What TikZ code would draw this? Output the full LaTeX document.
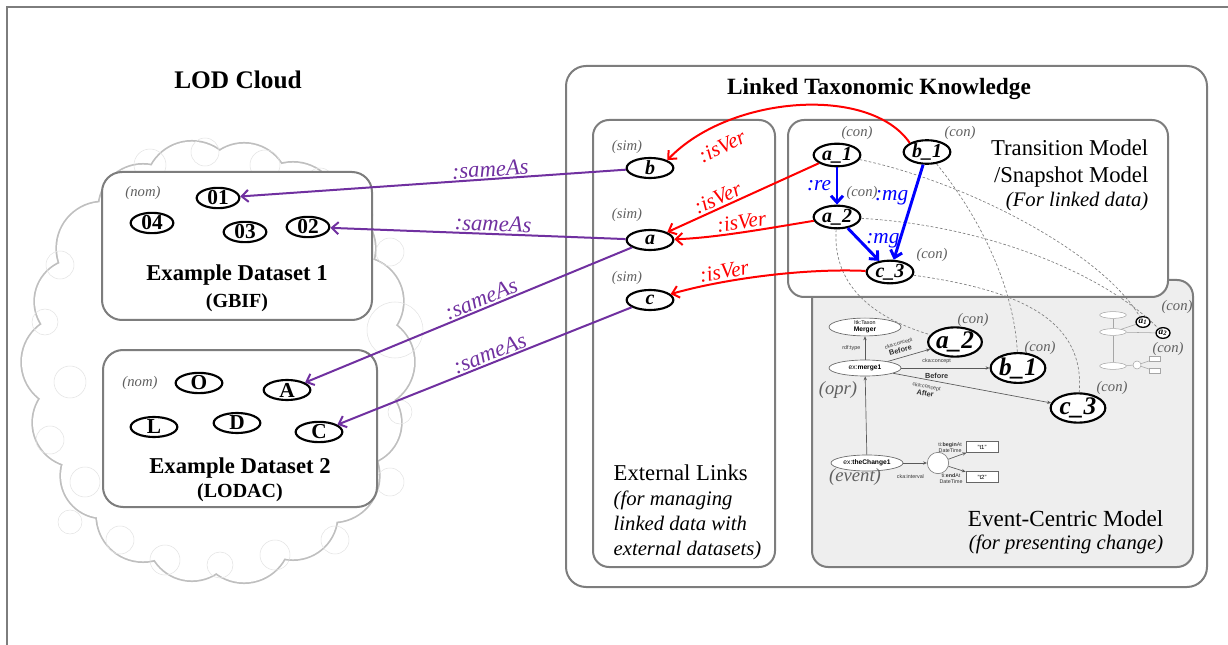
\documentclass[tikz,border=0pt]{standalone}
\usepackage{fontspec}
\setmainfont{Liberation Serif}
\setsansfont{Liberation Sans}
\usepackage{xcolor}
\usetikzlibrary{shapes.geometric, arrows.meta, positioning, calc}

\definecolor{purp}{RGB}{112,48,160}
\definecolor{ecm}{RGB}{238,238,238}
\definecolor{frameline}{RGB}{125,125,125}
\newcommand{\fsz}[2]{\fontsize{#1}{#2}\selectfont}
\def\cloudbumps{0/46,20/42,40/46,60/44,80/46,100/44,120/46,140/42,160/44,180/46,200/42,220/46,240/44,260/46,280/44,300/46,320/42,340/44}

\begin{document}
\begin{tikzpicture}[x=0.75pt, y=-0.75pt,
  panel/.style={draw=frameline, line width=1.5pt, rounded corners=12pt},
  res/.style={ellipse, draw, line width=1.6pt, fill=white, inner sep=0pt,
    minimum width=35pt, minimum height=15pt, font=\fsz{16}{16}\bfseries},
  con/.style={res, font=\fsz{15}{15}\bfseries\itshape},
  evres/.style={res, minimum width=41pt, minimum height=22pt, font=\fsz{19}{19}\bfseries\itshape},
  minires/.style={res, line width=1pt, minimum width=10.5pt, minimum height=8pt, font=\fsz{7}{7}\bfseries\itshape},
  kind/.style={text=gray!75!black, font=\fsz{11}{11}\itshape},
  big/.style={font=\fsz{17}{19}},
  sub/.style={font=\fsz{15.5}{19}\itshape},
  sameas/.style={draw=purp, line width=1.5pt, -{Straight Barb[length=5pt,width=9pt]}},
  sameaslbl/.style={text=purp, font=\fsz{17}{17}\itshape, sloped, inner sep=1pt},
  isver/.style={draw=red, line width=1.5pt, -{Straight Barb[length=5pt,width=9pt]}},
  isverlbl/.style={text=red, font=\fsz{16}{16}\itshape, sloped, inner sep=1.5pt},
  evo/.style={draw=blue, line width=2.2pt, -{Straight Barb[length=5pt,width=9pt]}},
  evolbl/.style={text=blue, font=\fsz{16}{16}\itshape},
  link/.style={draw=gray, line width=0.5pt, dash pattern=on 2pt off 1.5pt},
  rdf/.style={ellipse, draw=gray!80!black, fill=white, line width=0.5pt, inner sep=0pt,
    minimum width=54pt, minimum height=12pt, font=\sffamily\fsz{5}{5.5}, align=center},
  mini/.style={ellipse, draw=gray!70, fill=white, line width=0.4pt, inner sep=0pt,
    minimum width=20pt, minimum height=5pt},
  rdfedge/.style={draw=gray!70!black, line width=0.5pt, -{Stealth[length=3pt,width=2.5pt]}},
  rdflbl/.style={font=\sffamily\fsz{4}{4.5}, text=black!80, align=center},
  lit/.style={draw=gray!80!black, fill=white, line width=0.5pt, minimum width=24pt,
    minimum height=8pt, inner sep=0pt, font=\sffamily\fsz{4.5}{5}},
]
\useasboundingbox (0,0) rectangle (1228,645);
\draw[frameline, line width=1.1pt] (7,645) -- (7,7) -- (1228,7);

% LOD cloud
\node[font=\fsz{19}{19}\bfseries, anchor=base] (lod) at (238,89) {LOD Cloud};
\foreach \t/\r in \cloudbumps
  \draw[gray!50, line width=2.6pt] ({218+150*cos(\t)},{362+177*sin(\t)}) circle[radius=\r];
\foreach \t/\r in \cloudbumps
  \fill[white] ({218+150*cos(\t)},{362+177*sin(\t)}) circle[radius=\r];
\fill[white] (218,362) ellipse[x radius=152, y radius=179];
\foreach \cx/\cy/\r in {150/165/16,205/152/14,265/165/15,320/182/14,360/215/13,60/265/14,
    45/322/13,70/382/16,50/440/14,85/482/15,70/522/12,120/540/14,165/560/15,220/565/13,
    275/555/15,335/540/14,390/482/14,400/412/12,395/330/28,390/252/14}
  \draw[gray!22, line width=0.4pt] (\cx,\cy) circle[radius=\r];

% Example dataset 1
\draw[panel, fill=white, rounded corners=15pt] (102,172) rectangle (372,320);
\node[kind] (nom1) at (143,193) {(nom)};
\node[res, minimum width=32pt] (n01) at (218,198) {01};
\node[res, minimum width=32pt] (n04) at (152,223) {04};
\node[res, minimum width=32pt] (n03) at (245,232) {03};
\node[res, minimum width=32pt] (n02) at (308,227) {02};
\node[font=\fsz{17}{17}\bfseries, anchor=base] (ds1) at (237,281) {Example Dataset 1};
\node[font=\fsz{15}{15}\bfseries, anchor=base] (gbif) at (237,308) {(GBIF)};

% Example dataset 2
\draw[panel, fill=white, rounded corners=15pt] (103,350) rectangle (377,507);
\node[kind] (nom2) at (140,383) {(nom)};
\node[res] (nO) at (199,383) {O};
\node[res] (nA) at (287,390) {A};
\node[res] (nL) at (154,427) {L};
\node[res] (nD) at (237,423) {D};
\node[res] (nC) at (319,432) {C};
\node[font=\fsz{17}{17}\bfseries, anchor=base] (ds2) at (240,473) {Example Dataset 2};
\node[font=\fsz{15}{15}\bfseries, anchor=base] (lodac) at (240,497) {(LODAC)};

% Linked taxonomic knowledge
\draw[panel, rounded corners=15pt] (566,66) rectangle (1207,587);
\node[font=\fsz{17.5}{17.5}\bfseries, anchor=base] (ltk) at (879,95) {Linked Taxonomic Knowledge};
\draw[panel] (593,120) rectangle (775,567);
\draw[panel, fill=ecm] (812,280) rectangle (1193,567);
\draw[panel, fill=white] (788,120) rectangle (1168,297);

% External links
\node[kind] (sim1) at (627,147) {(sim)};
\node[con] (b) at (650,168) {b};
\node[kind] (sim2) at (627,215) {(sim)};
\node[con] (a) at (650,240) {a};
\node[kind] (sim3) at (627,278) {(sim)};
\node[con] (c) at (650,300) {c};
\node[big, anchor=base west] (el1) at (609,480) {External Links};
\node[sub, anchor=base west] (el2) at (609,505) {(for managing};
\node[sub, anchor=base west] (el3) at (609,530) {linked data with};
\node[sub, anchor=base west] (el4) at (609,555) {external datasets)};

% Transition / snapshot model
\node[kind] (con1) at (857,133) {(con)};
\node[con] (a1) at (837,155) {a\_1};
\node[kind] (con2) at (960,133) {(con)};
\node[con] (b1) at (927,152) {b\_1};
\node[kind] (con3) at (862,193) {(con)};
\node[con] (a2) at (837,217) {a\_2};
\node[kind] (con4) at (932,255) {(con)};
\node[con] (c3) at (890,272) {c\_3};
\node[big, anchor=base east] (tm1) at (1153,156) {Transition Model};
\node[big, anchor=base east] (tm2) at (1153,183) {/Snapshot Model};
\node[sub, anchor=base east] (tm3) at (1153,207) {(For linked data)};

% Event-centric model
\node[rdf] (merger) at (865,327) {{\fsz{4}{4.5}ltk:Taxon}\\\textbf{Merger}};
\node[rdf] (merge1) at (865,368) {ex:\textbf{merge1}};
\node[rdf] (change1) at (867,463) {ex:\textbf{theChange1}};
\node[circle, draw=gray, fill=white, line width=0.5pt, minimum size=16pt, inner sep=0pt] (span) at (938,463) {};
\node[lit] (t1) at (982,447) {"t1"};
\node[lit] (t2) at (982,477) {"t2"};
\node[kind, font=\fsz{14}{14}\itshape] (opr) at (838,390) {(opr)};
\node[kind, font=\fsz{14}{14}\itshape] (event) at (855,477) {(event)};
\node[kind] (con5) at (973,320) {(con)};
\node[evres, minimum width=34pt] (a2e) at (955,342) {a\_2};
\node[kind] (con6) at (1040,348) {(con)};
\node[evres] (b1e) at (1018,368) {b\_1};
\node[kind] (con7) at (1112,388) {(con)};
\node[evres] (c3e) at (1078,408) {c\_3};
\node[font=\fsz{17.3}{17.3}, anchor=base east] (ecm1) at (1168,526) {Event-Centric Model};
\node[sub, anchor=base east] (ecm2) at (1168,549) {(for presenting change)};
\draw[rdfedge] (merge1) -- node[rdflbl, left] {rdf:type} (merger);
\draw[rdfedge] (change1) -- (merge1);
\draw[rdfedge] (change1) -- node[rdflbl, below=5pt, pos=0.3] {cka:interval} (span);
\draw[rdfedge] (span) -- node[rdflbl, above=1pt, pos=0.1] {ti:\textbf{begin}At\\DateTime} (t1);
\draw[rdfedge] (span) -- node[rdflbl, below=1pt, pos=0.15] {ti:\textbf{end}At\\DateTime} (t2);
\draw[rdfedge] (merge1) -- node[rdflbl, sloped, above, pos=0.35] {cka:concept\\{\fsz{5.5}{6}\bfseries Before}} (a2e);
\draw[rdfedge] (merge1) -- node[rdflbl, sloped, above, pos=0.4] {cka:concept}
  node[rdflbl, sloped, below, pos=0.4] {\fsz{5.5}{6}\bfseries Before} (b1e);
\draw[rdfedge] (merge1) -- node[rdflbl, sloped, below, pos=0.22] {cka:concept\\{\fsz{5.5}{6}\bfseries After}} (c3e);

% miniature of a split
\node[mini] (mtax) at (1113,315) {};
\node[mini] (mopr) at (1113,332) {};
\node[mini] (mevt) at (1113,366) {};
\node[circle, draw=gray!70, fill=white, line width=0.4pt, minimum size=6pt, inner sep=0pt] (mspan) at (1137,365) {};
\node[draw=gray!70, fill=white, line width=0.4pt, minimum width=8pt, minimum height=4pt, inner sep=0pt] (mt1) at (1155,359) {};
\node[draw=gray!70, fill=white, line width=0.4pt, minimum width=8pt, minimum height=4pt, inner sep=0pt] (mt2) at (1155,371) {};
\node[minires] (sa1) at (1143,322) {a\textsubscript{1}};
\node[minires] (sa2) at (1163,333) {a\textsubscript{2}};
\node[kind] (con8) at (1177,307) {(con)};
\node[kind] (con9) at (1168,349) {(con)};
\draw[gray!70, line width=0.4pt] (mopr) -- (mtax);
\draw[gray!70, line width=0.4pt] (mevt) -- (mopr);
\draw[gray!70, line width=0.4pt] (mopr) -- (sa1);
\draw[gray!70, line width=0.4pt] (mopr) -- (sa2);
\draw[gray!70, line width=0.4pt] (mevt) -- (mspan);
\draw[gray!70, line width=0.4pt] (mspan) -- (mt1);
\draw[gray!70, line width=0.4pt] (mspan) -- (mt2);

% correspondences between models
\draw[link] (a1) .. controls (960,180) and (1100,250) .. (sa1);
\draw[link] (a2) .. controls (980,225) and (1100,270) .. (sa2);
\draw[link] (b1) .. controls (990,230) and (1015,300) .. (b1e);
\draw[link] (a2) .. controls (832,290) and (880,320) .. (a2e);
\draw[link] (c3) .. controls (1020,290) and (1085,320) .. (c3e);

% version links
\draw[isver] (b1.north west) .. controls (870,85) and (730,95) .. (b.north east)
  node[isverlbl, pos=0.8, below=8pt] {:isVer};
\draw[isver] (a1) -- node[isverlbl, pos=0.64, above] {:isVer} (a);
\draw[isver] (a2) .. controls (770,228) and (715,238) .. (a)
  node[isverlbl, pos=0.5, above] {:isVer};
\draw[isver] (c3) .. controls (800,268) and (720,280) .. (c)
  node[isverlbl, pos=0.68, above] {:isVer};

% evolution links
\draw[evo] (a1) -- node[evolbl, left] {:re} (a2);
\draw[evo] (b1) -- node[evolbl, left=-1pt, pos=0.35] {:mg} (c3);
\draw[evo] (a2) -- node[evolbl, right, pos=0.4] {:mg} (c3);

% external links
\draw[sameas] (b) -- node[sameaslbl, above, pos=0.35] {:sameAs} (n01);
\draw[sameas] (a) -- node[sameaslbl, above, pos=0.45] {:sameAs} (n02);
\draw[sameas] (a) -- node[sameaslbl, above, pos=0.45] {:sameAs} (nA);
\draw[sameas] (c) -- node[sameaslbl, above, pos=0.47] {:sameAs} (nC);
\end{tikzpicture}
\end{document}
